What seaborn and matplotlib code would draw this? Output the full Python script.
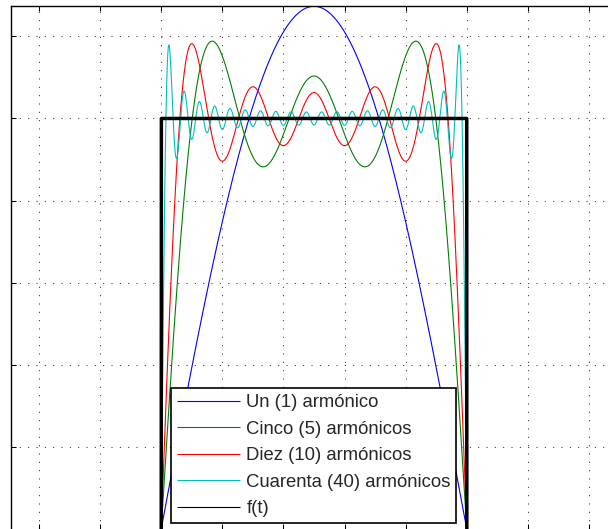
import numpy as np
import pandas as pd
import matplotlib
matplotlib.use("Agg")
import matplotlib.pyplot as plt
import seaborn as sns
from matplotlib.lines import Line2D

# Number of harmonics in each partial Fourier sum of the square wave
harmonics = [1, 5, 10, 40]
labels = ["Un (1) armónico", "Cinco (5) armónicos", "Diez (10) armónicos",
          "Cuarenta (40) armónicos", "f(t)"]
colors = ["#0000ff", "#008000", "#ff0000", "#00bfbf", "#000000"]

# Square wave: +1 on (0, 1), -1 on (1, 2), period 2
amplitude = 1.0
half_period = 1.0

x_ticks = [-0.4, -0.2, 0.0, 0.2, 0.4, 0.6, 0.8, 1.0, 1.2, 1.4]
y_ticks = [0.2, 0.4, 0.6, 0.8, 1.0, 1.2]

t = np.linspace(-0.5, 1.5, 4001)


def fourier_partial_sum(tt, n_max):
    s = np.zeros_like(tt)
    for n in range(1, n_max + 1, 2):
        s += 4 * amplitude / (n * np.pi) * np.sin(n * np.pi * tt / half_period)
    return s


frames = []
for n_max, lab in zip(harmonics, labels[:4]):
    frames.append(pd.DataFrame({"t": t, "valor": fourier_partial_sum(t, n_max), "serie": lab}))
df = pd.concat(frames, ignore_index=True)
f_t = amplitude * np.sign(np.sin(np.pi * t / half_period))

sns.set_style("white")
plt.rcParams["font.family"] = ["Liberation Sans", "DejaVu Sans"]
plt.rcParams["lines.solid_capstyle"] = "butt"

fig = plt.figure(figsize=(6.08, 5.29), dpi=100)
ax = fig.add_axes([11 / 608, 0, (619.5 - 11) / 608, (529 - 6.3) / 529])

sns.lineplot(data=df, x="t", y="valor", hue="serie", hue_order=labels[:4],
             palette=dict(zip(labels[:4], colors[:4])), linewidth=0.8,
             estimator=None, sort=False, legend=False, ax=ax)
sns.lineplot(x=t, y=f_t, color=colors[4], linewidth=2.5,
             estimator=None, sort=False, ax=ax)

ax.set_xlim(-0.4917, 1.5)
ax.set_ylim(0, 4 / np.pi)
ax.set_xticks(x_ticks)
ax.set_yticks(y_ticks)
ax.set_xlabel("")
ax.set_ylabel("")
ax.tick_params(which="both", direction="in", length=3.6, width=0.75, color="k",
               top=True, right=True, bottom=True, left=True,
               labelbottom=False, labelleft=False)
ax.grid(True, linestyle=(0, (1, 7)), linewidth=0.75, color="0.2")

for side in ["left", "top"]:
    ax.spines[side].set_visible(True)
    ax.spines[side].set_color("k")
    ax.spines[side].set_linewidth(1.0)
ax.spines["bottom"].set_visible(False)
ax.spines["right"].set_visible(False)

handles = [Line2D([], [], color=c, linewidth=0.8) for c in colors]
leg = ax.legend(handles, labels, loc="lower left",
                bbox_to_anchor=(171 / 608, 6 / 529), bbox_transform=fig.transFigure,
                borderaxespad=0, fontsize=13.3, frameon=True, fancybox=False,
                framealpha=1, edgecolor="k", borderpad=0.3, labelspacing=0.52,
                handlelength=3.45, handletextpad=0.33)
leg.get_frame().set_linewidth(1.2)

fig.savefig("out.png", dpi=100)
